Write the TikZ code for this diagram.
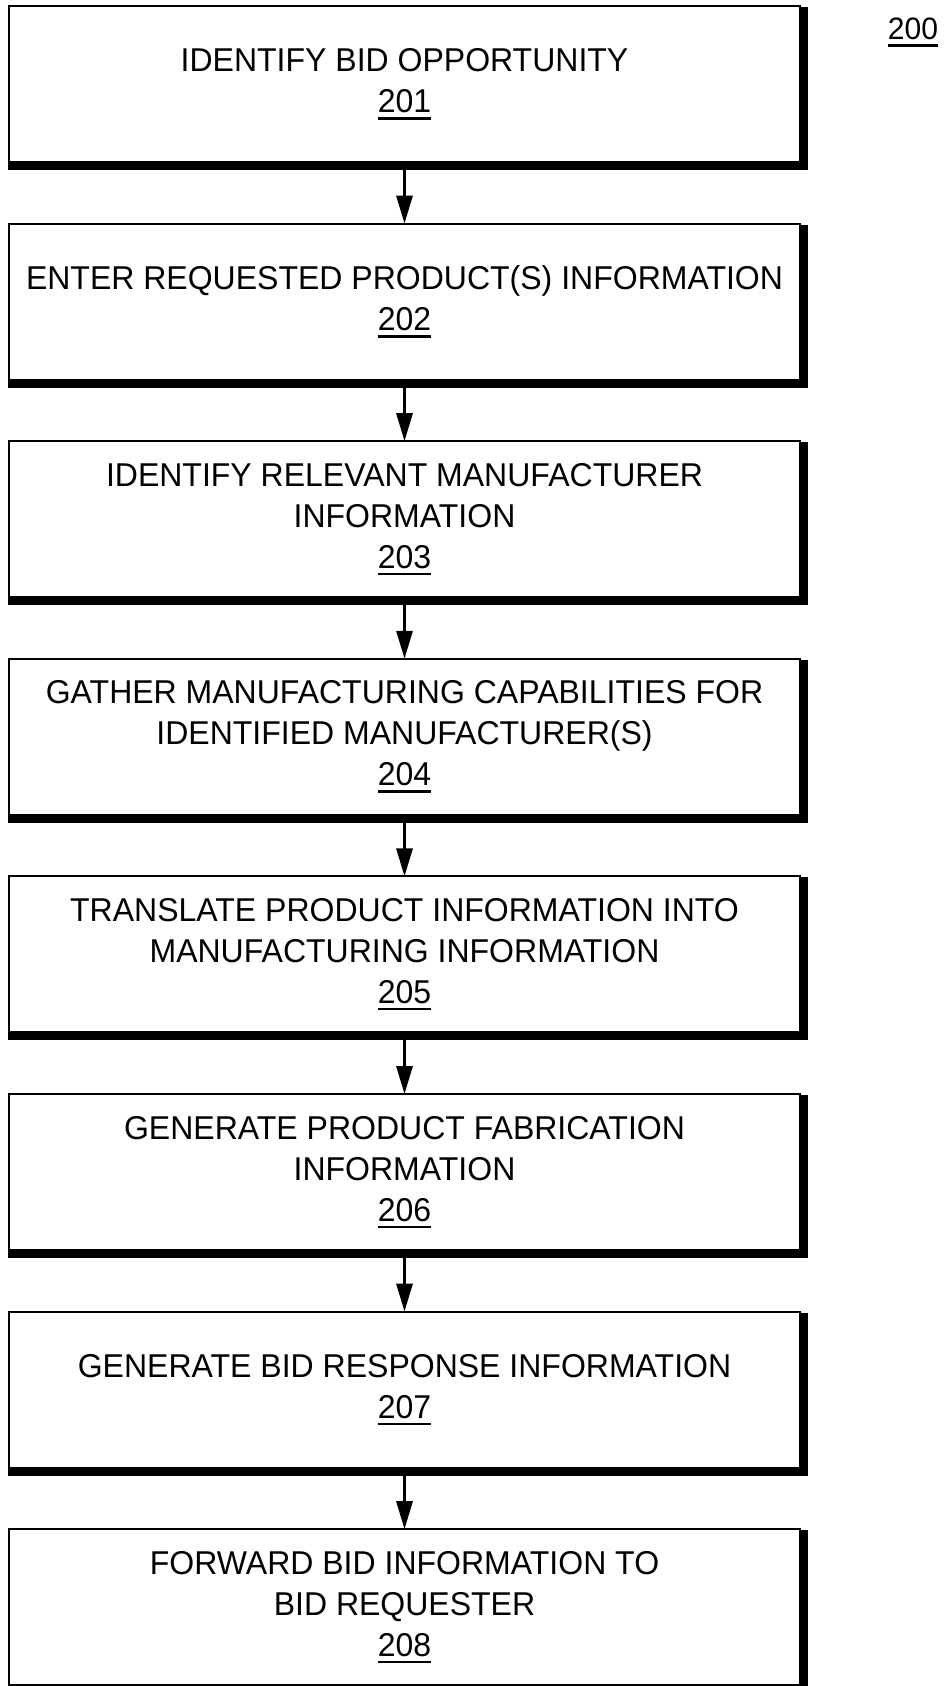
\documentclass[tikz,border=0pt]{standalone}
\usepackage{fontspec}
\setmainfont{Liberation Sans}[FakeStretch=0.97]
\usetikzlibrary{arrows.meta}
\newcommand\numul[1]{\setbox0\hbox{#1}\rlap{\rule[-7pt]{\wd0}{2.5pt}}\box0}
\begin{document}
\begin{tikzpicture}[x=1pt,y=1pt,
  stepbox/.style={draw=black, line width=2pt, rectangle, minimum width=791pt, minimum height=156pt,
    inner sep=0pt, outer sep=0pt, align=center, font=\fontsize{33}{41}\selectfont},
  flow/.style={line width=3pt, -{Triangle[length=28pt,width=16pt]}},
  shade/.style={line width=8pt}
]
\useasboundingbox (0,0) rectangle (950,-1686);
\fill[white] (0,0) rectangle (950,-1686);
\node[stepbox] (b1) at (404.5,-84) {IDENTIFY BID OPPORTUNITY\\\numul{201}};
\node[stepbox] (b2) at (404.5,-301.6) {ENTER REQUESTED PRODUCT(S) INFORMATION\\\numul{202}};
\node[stepbox] (b3) at (404.5,-519.2) {IDENTIFY RELEVANT MANUFACTURER\\INFORMATION\\\numul{203}};
\node[stepbox] (b4) at (404.5,-736.8) {GATHER MANUFACTURING CAPABILITIES FOR\\IDENTIFIED MANUFACTURER(S)\\\numul{204}};
\node[stepbox] (b5) at (404.5,-954.4) {TRANSLATE PRODUCT INFORMATION INTO\\MANUFACTURING INFORMATION\\\numul{205}};
\node[stepbox] (b6) at (404.5,-1172) {GENERATE PRODUCT FABRICATION\\INFORMATION\\\numul{206}};
\node[stepbox] (b7) at (404.5,-1389.6) {GENERATE BID RESPONSE INFORMATION\\\numul{207}};
\node[stepbox] (b8) at (404.5,-1607.2) {FORWARD BID INFORMATION TO\\BID REQUESTER\\\numul{208}};
\foreach \i in {1,...,8}{
  \draw[shade] ([xshift=4pt,yshift=-1pt]b\i.north east) -- ([xshift=4pt,yshift=-4pt]b\i.south east) -- ([xshift=-1pt,yshift=-4pt]b\i.south west);
}
\foreach \a/\b in {1/2,2/3,3/4,4/5,5/6,6/7,7/8}{
  \draw[flow] (b\a.south) -- (b\b.north);
}
\node[anchor=base, inner sep=0pt, font=\fontsize{31}{36}\selectfont] (lbl) at (913,-40) {\numul{200}};
\end{tikzpicture}
\end{document}
